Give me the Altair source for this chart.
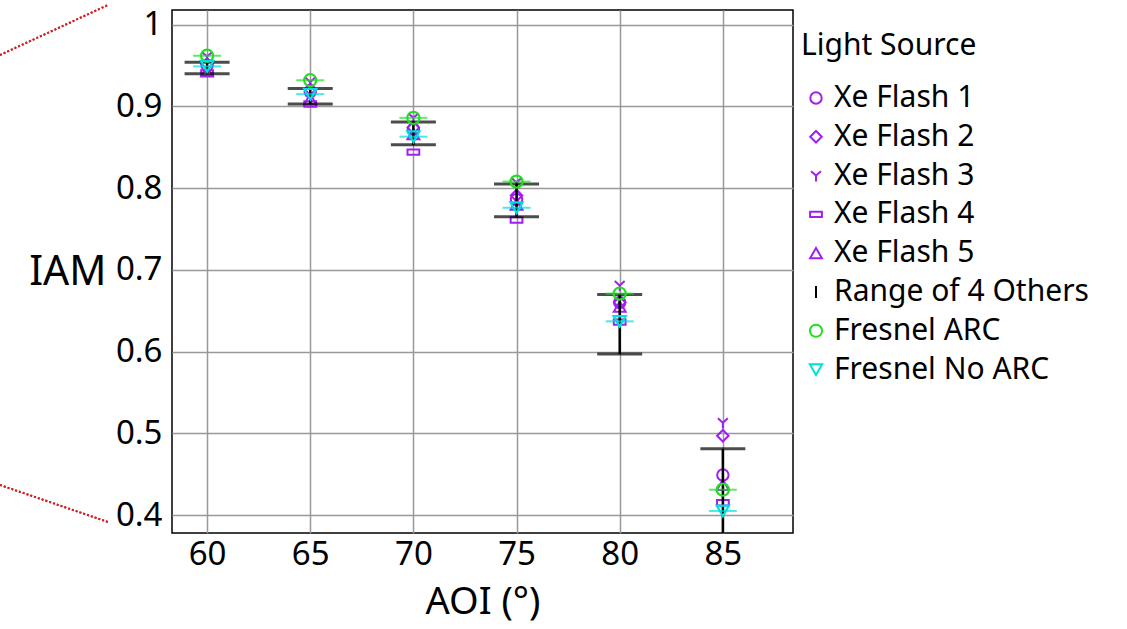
import altair as alt
import pandas as pd

aoi = [60, 65, 70, 75, 80, 85]
xe1 = [0.950, 0.918, 0.872, 0.786, 0.660, 0.449]
xe2 = [0.952, 0.921, 0.874, 0.791, 0.660, 0.497]
xe3 = [0.961, 0.930, 0.886, 0.807, 0.681, 0.513]
xe4 = [0.941, 0.903, 0.844, 0.761, 0.636, 0.415]
xe5 = [0.943, 0.909, 0.866, 0.780, 0.655, 0.437]
range_lo = [0.940, 0.903, 0.853, 0.765, 0.597, 0.360]
range_hi = [0.954, 0.922, 0.881, 0.805, 0.670, 0.481]
fresnel_arc = [0.962, 0.932, 0.886, 0.808, 0.671, 0.431]
fresnel_noarc = [0.949, 0.915, 0.863, 0.776, 0.637, 0.405]

series = ["Xe Flash 1", "Xe Flash 2", "Xe Flash 3", "Xe Flash 4", "Xe Flash 5",
          "Range of 4 Others", "Fresnel ARC", "Fresnel No ARC"]
PURPLE = "#a020f0"
GREEN = "#22dd22"
CYAN = "#00dede"
colors = [PURPLE, PURPLE, PURPLE, PURPLE, PURPLE, "black", GREEN, CYAN]
shapes = ["circle", "diamond",
          "M0,0L0,1M0,0L-0.85,-0.75M0,0L0.85,-0.75",
          "M-1,-0.45L1,-0.45L1,0.45L-1,0.45Z",
          "triangle-up",
          "M0,-1L0,1",
          "circle", "triangle-down"]
sizes = [130, 150, 160, 200, 150, 100, 300, 320]

rows = []
for name, vals in [("Xe Flash 1", xe1), ("Xe Flash 2", xe2), ("Xe Flash 3", xe3),
                   ("Xe Flash 4", xe4), ("Xe Flash 5", xe5),
                   ("Fresnel ARC", fresnel_arc), ("Fresnel No ARC", fresnel_noarc)]:
    for a, v in zip(aoi, vals):
        rows.append({"AOI": a, "IAM": v, "Light Source": name})
pts = pd.DataFrame(rows)
purple_pts = pts[pts["Light Source"].str.startswith("Xe")]
fres_pts = pts[pts["Light Source"].str.startswith("Fresnel")]
rng = pd.DataFrame({"AOI": aoi, "lo": range_lo, "hi": range_hi})

FONT = "Noto Sans"
xscale = alt.Scale(domain=[58.3, 88.4], nice=False, zero=False)
yscale = alt.Scale(domain=[0.378, 1.018], nice=False, zero=False)
xax = alt.X("AOI:Q", scale=xscale,
            axis=alt.Axis(values=aoi, title="AOI (°)", labelPadding=5, titlePadding=12,
                          titleFontSize=38))
yax = alt.Y("IAM:Q", scale=yscale,
            axis=alt.Axis(values=[0.4, 0.5, 0.6, 0.7, 0.8, 0.9, 1.0], format="~g",
                          title="IAM", titleAngle=0, titleAlign="right",
                          titleBaseline="middle", titleX=-66, titleY=262,
                          titleFontSize=41, labelPadding=10))

color_enc = alt.Color("Light Source:N", scale=alt.Scale(domain=series, range=colors),
                      legend=alt.Legend(orient="none", legendX=629, legendY=21,
                                        title="Light Source"))
shape_enc = alt.Shape("Light Source:N", scale=alt.Scale(domain=series, range=shapes))
size_enc = alt.Size("Light Source:N", scale=alt.Scale(domain=series, range=sizes), legend=None)

purple_layer = alt.Chart(purple_pts).mark_point(filled=False, strokeWidth=2, opacity=1).encode(
    x=xax, y=yax, color=color_enc, shape=shape_enc, size=size_enc)

rule_layer = alt.Chart(rng).mark_rule(color="black", strokeWidth=2.5, clip=True).encode(
    x=alt.X("AOI:Q", scale=xscale), y=alt.Y("lo:Q", scale=yscale), y2="hi:Q")
cap_lo = alt.Chart(rng).mark_tick(color="black", orient="horizontal", size=45,
                                  thickness=3, clip=True).encode(
    x=alt.X("AOI:Q", scale=xscale), y=alt.Y("lo:Q", scale=yscale))
cap_hi = alt.Chart(rng).mark_tick(color="black", orient="horizontal", size=45,
                                  thickness=3, clip=True).encode(
    x=alt.X("AOI:Q", scale=xscale), y=alt.Y("hi:Q", scale=yscale))

fres_layer = alt.Chart(fres_pts).mark_point(filled=False, strokeWidth=2.2, opacity=1).encode(
    x=xax, y=yax, color=color_enc, shape=shape_enc, size=size_enc)

arc_df = pd.DataFrame({"AOI": aoi, "v": fresnel_arc})
noarc_df = pd.DataFrame({"AOI": aoi, "v": fresnel_noarc})
arc_tick = alt.Chart(arc_df).mark_tick(color=GREEN, orient="horizontal", size=28,
                                       thickness=2).encode(
    x=alt.X("AOI:Q", scale=xscale), y=alt.Y("v:Q", scale=yscale))
noarc_tick = alt.Chart(noarc_df).mark_tick(color=CYAN, orient="horizontal", size=28,
                                           thickness=2).encode(
    x=alt.X("AOI:Q", scale=xscale), y=alt.Y("v:Q", scale=yscale))

# decorative dotted zoom-indicator lines at the left edge
deco = pd.DataFrame({"k": [0, 1]})
deco_top = alt.Chart(deco).mark_rule(color="#d42020", strokeWidth=2, strokeDash=[2, 2]).encode(
    x=alt.value(-172), y=alt.value(45), x2=alt.value(-64), y2=alt.value(-5))
deco_bot = alt.Chart(deco).mark_rule(color="#d42020", strokeWidth=2, strokeDash=[2, 2]).encode(
    x=alt.value(-172), y=alt.value(475), x2=alt.value(-64), y2=alt.value(512))

chart = alt.layer(
    deco_top, deco_bot,
    purple_layer, rule_layer, cap_lo, cap_hi, arc_tick, noarc_tick, fres_layer
).properties(
    width=621, height=523,
    autosize=alt.AutoSizeParams(type="none"),
    padding={"left": 172, "top": 10, "right": 334, "bottom": 96},
    background="white",
).configure_view(
    stroke="black", strokeWidth=1.5
).configure_axis(
    labelFont=FONT, titleFont=FONT, labelFontSize=33,
    labelColor="black", titleColor="black", titleFontWeight="normal",
    grid=True, gridColor="#999999", gridWidth=1.5, domain=False, ticks=False,
).configure_legend(
    labelFont=FONT, titleFont=FONT, labelFontSize=30, titleFontSize=30,
    titleFontWeight="normal", titleColor="black", labelColor="black",
    symbolSize=150, symbolStrokeWidth=2, rowPadding=8.8, titlePadding=22,
    labelOffset=3, symbolType="circle", labelLimit=400,
)

chart.save("out.html", embed_options={"renderer": "svg", "actions": False})
